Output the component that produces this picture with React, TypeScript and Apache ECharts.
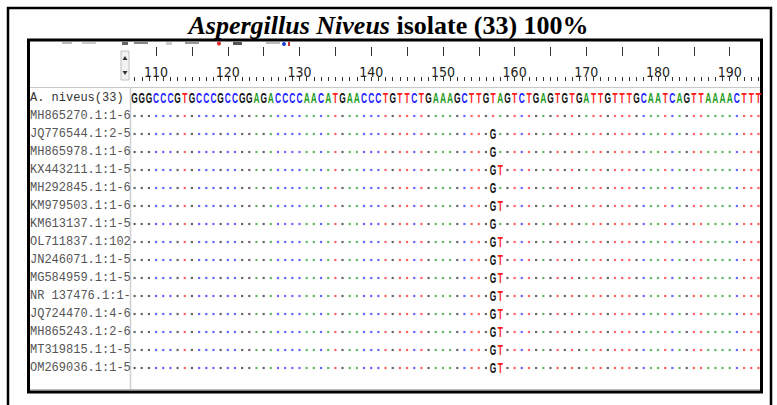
import React, { useEffect, useRef } from "react";
import * as echarts from "echarts";

// ---- data ----
const titleItalic = "Aspergillus Niveus";
const titleRest = "isolate (33) 100%";
const startPosition = 107;
const consensus =
  "GGGCCCGTGCCCGCCGGAGACCCCAACATGAACCCTGTTCTGAAAGCTTGTAGTCTGAGTGTGATTGTTTGCAATCAGTTAAAACTTT";
const rowNames = [
  "A. niveus(33)",
  "MH865270.1:1-6",
  "JQ776544.1:2-5",
  "MH865978.1:1-6",
  "KX443211.1:1-5",
  "MH292845.1:1-6",
  "KM979503.1:1-6",
  "KM613137.1:1-5",
  "OL711837.1:102",
  "JN246071.1:1-5",
  "MG584959.1:1-5",
  "NR 137476.1:1-",
  "JQ724470.1:4-6",
  "MH865243.1:2-6",
  "MT319815.1:1-5",
  "OM269036.1:1-5",
];
// variants start at this alignment column (position 157)
const variantStart = 50;
const rowVariants = ["", "", "G", "G", "GT", "G", "GT", "G", "GT", "GT", "GT", "GT", "GT", "GT", "GT", "GT"];
const tickLabels = [110, 120, 130, 140, 150, 160, 170, 180, 190];

const baseColors: Record<string, string> = { A: "#199a19", C: "#2222ff", G: "#111111", T: "#ff1a1a" };
const dotColors: Record<string, string> = { A: "#3ea53e", C: "#4040ff", G: "#404040", T: "#ff3b3b" };

export default function App() {
  const ref = useRef<HTMLDivElement>(null);

  useEffect(() => {
    document.body.style.margin = "0";
    if (!ref.current) return;
    const chart = echarts.init(ref.current, null, { renderer: "svg" });

    const positions = consensus.split("").map((_, i) => String(startPosition + i));

    const letterData: number[][] = [];
    const letterChars: string[] = [];
    const dotData: any[] = [];
    rowNames.forEach((_, r) => {
      for (let i = 0; i < consensus.length; i++) {
        const base = consensus[i];
        if (r === 0) {
          letterData.push([i, r]);
          letterChars.push(base);
          continue;
        }
        const v = rowVariants[r];
        const k = i - variantStart;
        if (k >= 0 && k < v.length) {
          letterData.push([i, r]);
          letterChars.push(v[k]);
        } else {
          dotData.push({ value: [i, r], itemStyle: { color: dotColors[base] } });
        }
      }
    });

    const seqFont = "'Liberation Sans', 'DejaVu Sans', sans-serif";

    chart.setOption({
      animation: false,
      backgroundColor: "#ffffff",
      title: {
        text: `{i|${titleItalic}} {b|${titleRest}}`,
        left: "center",
        top: 7,
        textStyle: {
          fontFamily: "'Liberation Serif', serif",
          fontSize: 26,
          fontWeight: "bold",
          color: "#000",
          rich: {
            i: { fontFamily: "'Liberation Serif', serif", fontSize: 26, fontWeight: "bold", fontStyle: "italic", color: "#000" },
            b: { fontFamily: "'Liberation Serif', serif", fontSize: 26, fontWeight: "bold", color: "#000" },
          },
        },
      },
      grid: [
        { left: 131, top: 89, width: 631, height: 288 },
        { left: 131, top: 47, width: 631, height: 30 },
      ],
      xAxis: [
        {
          gridIndex: 0,
          type: "category",
          data: positions,
          show: false,
        },
        {
          gridIndex: 1,
          type: "category",
          data: positions,
          position: "top",
          axisLine: { show: false },
          axisTick: { show: true, inside: true, length: 4, alignWithLabel: true, interval: 0, lineStyle: { color: "#333", width: 1 } },
          axisLabel: { show: false },
          splitLine: { show: false },
        },
        {
          gridIndex: 1,
          type: "category",
          data: positions,
          position: "top",
          axisLine: { show: false },
          axisTick: {
            show: true,
            inside: true,
            length: 9,
            alignWithLabel: true,
            interval: (i: number) => (startPosition + i) % 5 === 0,
            lineStyle: { color: "#333", width: 1 },
          },
          axisLabel: {
            show: true,
            inside: true,
            margin: 18,
            interval: (i: number) => tickLabels.includes(startPosition + i),
            fontFamily: "'DejaVu Sans Condensed', 'Liberation Sans', sans-serif",
            fontSize: 14,
            color: "#222",
          },
          splitLine: { show: false },
        },
      ],
      yAxis: [
        {
          gridIndex: 0,
          type: "category",
          data: rowNames,
          inverse: true,
          axisLine: { show: false },
          axisTick: { show: false },
          axisLabel: {
            align: "left",
            margin: 101,
            fontFamily: "'Liberation Mono', 'DejaVu Sans Mono', monospace",
            fontSize: 12,
            color: (_v: any, idx: number) => (idx === 0 ? "#333" : "#555"),
          },
          splitLine: { show: false },
        },
        { gridIndex: 1, type: "value", show: false },
      ],
      series: [
        {
          type: "scatter",
          xAxisIndex: 0,
          yAxisIndex: 0,
          symbol: "rect",
          symbolSize: 2.2,
          data: dotData,
          silent: true,
        },
        {
          type: "custom",
          xAxisIndex: 0,
          yAxisIndex: 0,
          silent: true,
          data: letterData,
          renderItem: (params: any, api: any) => {
            const p = api.coord([api.value(0), api.value(1)]);
            const ch = letterChars[params.dataIndex];
            return {
              type: "text",
              x: p[0],
              y: p[1],
              scaleX: 0.56,
              style: {
                text: ch,
                fill: baseColors[ch],
                fontFamily: seqFont,
                fontSize: 15,
                fontWeight: "bold",
                align: "center",
                verticalAlign: "middle",
              },
            };
          },
        },
      ],
      graphic: [
        // outer frame
        { type: "rect", shape: { x: 8, y: 8, width: 763, height: 430 }, style: { fill: "none", stroke: "#000", lineWidth: 2.5 }, silent: true },
        // inner screenshot frame
        { type: "rect", shape: { x: 28.5, y: 40, width: 733, height: 352 }, style: { fill: "none", stroke: "#000", lineWidth: 3 }, silent: true },
        // separators
        { type: "line", shape: { x1: 30, y1: 87.5, x2: 760, y2: 87.5 }, style: { stroke: "#c8c8c8", lineWidth: 1 }, silent: true },
        { type: "line", shape: { x1: 130.5, y1: 88, x2: 130.5, y2: 390 }, style: { stroke: "#d0d0d0", lineWidth: 1.5 }, silent: true },
        { type: "line", shape: { x1: 30, y1: 389.5, x2: 760, y2: 389.5 }, style: { stroke: "#bbbbbb", lineWidth: 1 }, silent: true },
        // spinner control
        { type: "rect", shape: { x: 121, y: 51, width: 8, height: 29 }, style: { fill: "#f2f2f2", stroke: "#c0c0c0", lineWidth: 1 }, silent: true },
        { type: "polygon", shape: { points: [[125, 56], [122.5, 60], [127.5, 60]] }, style: { fill: "#333" }, silent: true },
        { type: "polygon", shape: { points: [[125, 75], [122.5, 71], [127.5, 71]] }, style: { fill: "#333" }, silent: true },
        // fragments of the clipped toolbar
        { type: "rect", shape: { x: 62, y: 42, width: 10, height: 2 }, style: { fill: "#bbb" }, silent: true },
        { type: "rect", shape: { x: 82, y: 42, width: 14, height: 2 }, style: { fill: "#ccc" }, silent: true },
        { type: "rect", shape: { x: 122, y: 42, width: 6, height: 3 }, style: { fill: "#666" }, silent: true },
        { type: "rect", shape: { x: 134, y: 42, width: 14, height: 2 }, style: { fill: "#888" }, silent: true },
        { type: "rect", shape: { x: 166, y: 42, width: 6, height: 3 }, style: { fill: "#ccc" }, silent: true },
        { type: "rect", shape: { x: 185, y: 42, width: 14, height: 2 }, style: { fill: "#999" }, silent: true },
        { type: "circle", shape: { cx: 219, cy: 43.5, r: 2 }, style: { fill: "#e02020" }, silent: true },
        { type: "rect", shape: { x: 233, y: 42, width: 9, height: 3 }, style: { fill: "#555" }, silent: true },
        { type: "rect", shape: { x: 266, y: 42, width: 14, height: 2 }, style: { fill: "#bbb" }, silent: true },
        { type: "circle", shape: { cx: 284, cy: 44, r: 2 }, style: { fill: "#2040e0" }, silent: true },
        { type: "rect", shape: { x: 288, y: 42, width: 2, height: 4 }, style: { fill: "#d03030" }, silent: true },
      ],
    });

    return () => chart.dispose();
  }, []);

  return (
    <div
      ref={ref}
      style={{ position: "fixed", left: 0, top: 0, width: 777, height: 405, background: "#fff" }}
    />
  );
}
